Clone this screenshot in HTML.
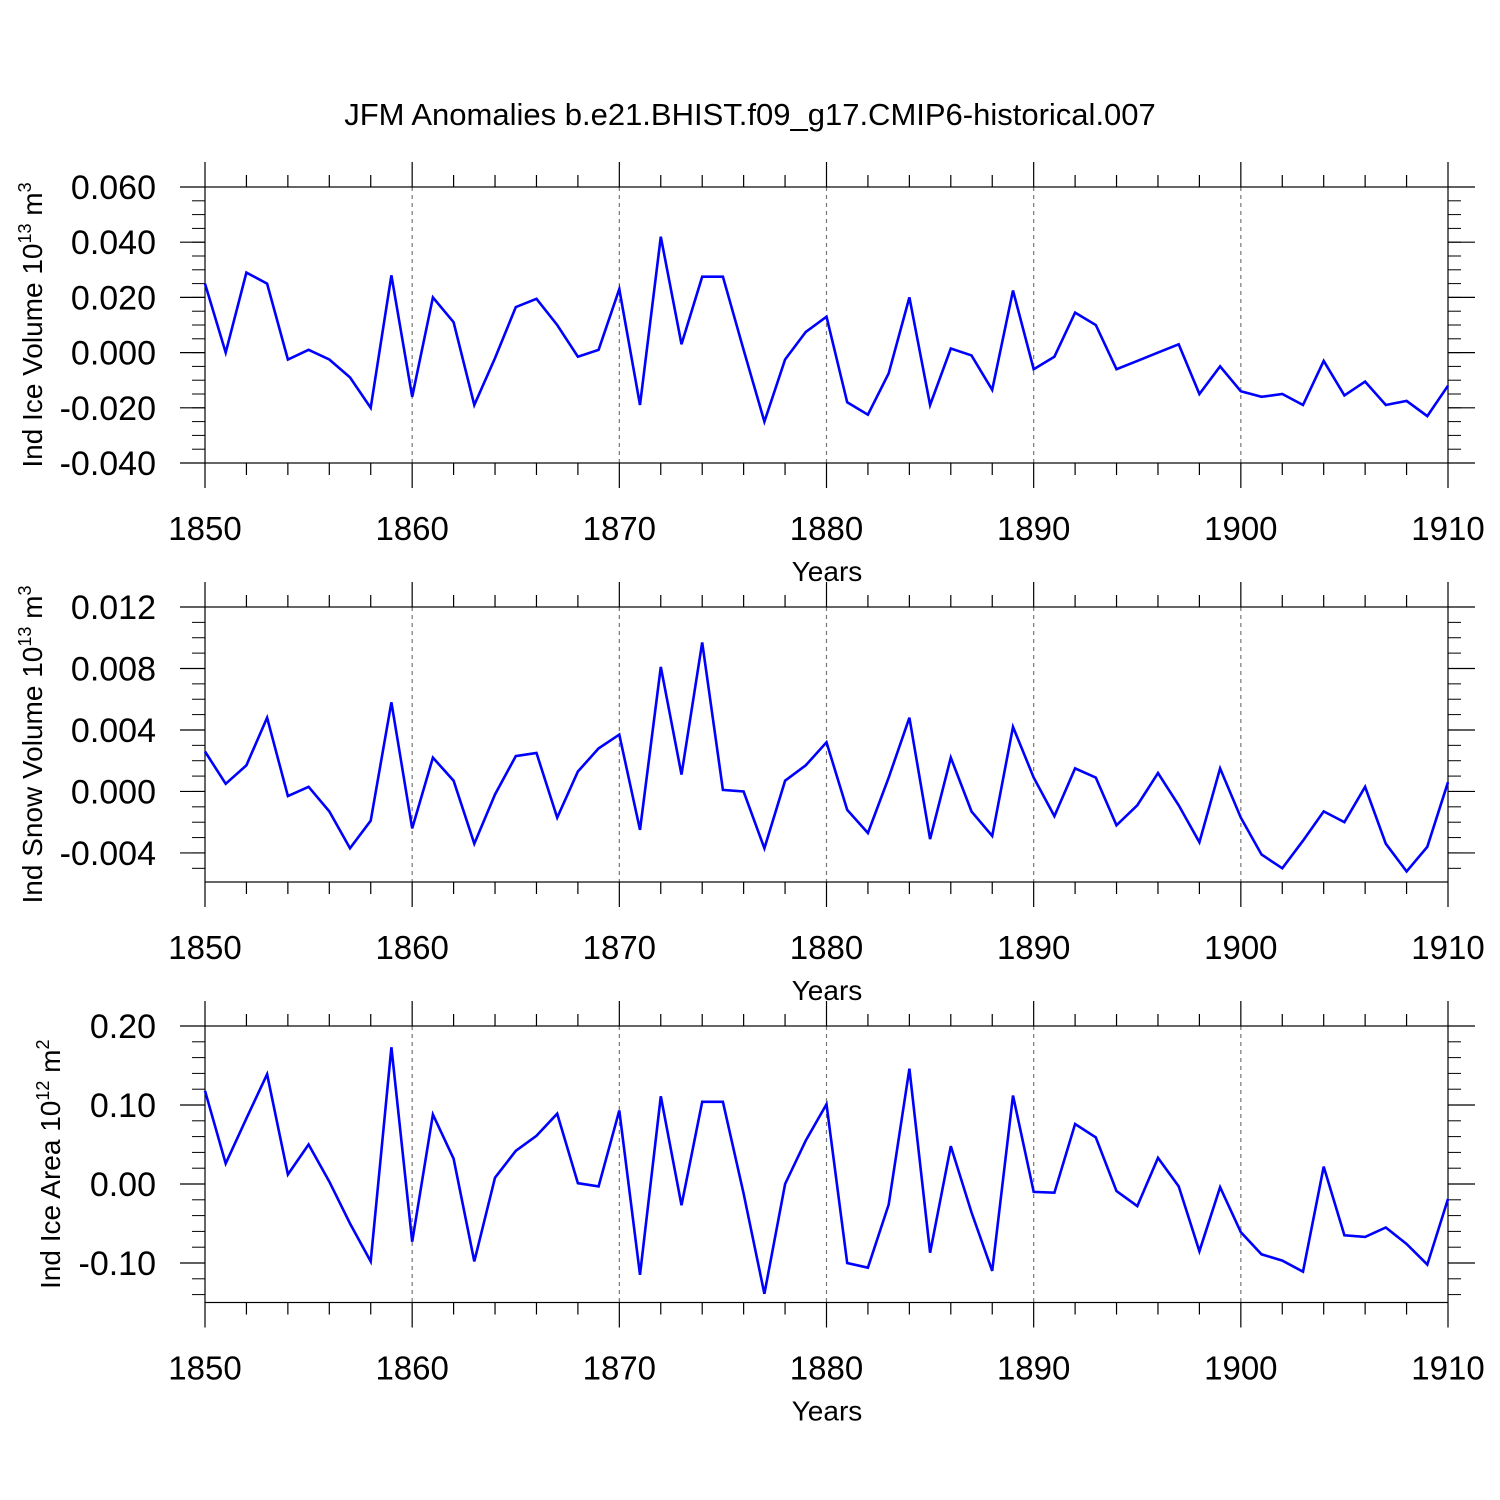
<!DOCTYPE html>
<html><head><meta charset="utf-8"><style>
html,body{margin:0;padding:0;background:#fff;}
svg{display:block;font-family:"Liberation Sans",sans-serif;}
</style></head><body>
<svg id="chart" width="1500" height="1500" viewBox="0 0 1500 1500">
<text x="750" y="125" text-anchor="middle" font-size="31">JFM Anomalies b.e21.BHIST.f09_g17.CMIP6-historical.007</text>
</svg>
<script>
const years = [];
for (let y = 1850; y <= 1910; y++) years.push(y);
const iceVolume = [0.025,0.000,0.029,0.025,-0.0025,0.001,-0.0025,-0.009,-0.020,0.028,-0.016,0.020,0.011,-0.019,-0.002,0.0165,0.0195,0.010,-0.0015,0.001,0.023,-0.019,0.042,0.003,0.0275,0.0275,0.001,-0.025,-0.0025,0.0075,0.013,-0.018,-0.0225,-0.0075,0.020,-0.019,0.0015,-0.001,-0.0135,0.0225,-0.006,-0.0015,0.0145,0.010,-0.006,-0.003,0.000,0.003,-0.015,-0.005,-0.014,-0.016,-0.015,-0.019,-0.003,-0.0155,-0.0105,-0.019,-0.0175,-0.023,-0.012];
const snowVolume = [0.0026,0.0005,0.0017,0.0048,-0.0003,0.0003,-0.0013,-0.0037,-0.0019,0.0058,-0.0024,0.0022,0.0007,-0.0034,-0.0002,0.0023,0.0025,-0.0017,0.0013,0.0028,0.0037,-0.0025,0.0081,0.0011,0.0097,0.0001,0.0000,-0.0037,0.0007,0.0017,0.0032,-0.0012,-0.0027,0.0009,0.0048,-0.0031,0.0022,-0.0013,-0.0029,0.0042,0.0009,-0.0016,0.0015,0.0009,-0.0022,-0.0009,0.0012,-0.0009,-0.0033,0.0015,-0.0017,-0.0041,-0.0050,-0.0032,-0.0013,-0.0020,0.0003,-0.0034,-0.0052,-0.0036,0.0006];
const iceArea = [0.118,0.026,0.083,0.139,0.012,0.050,0.003,-0.050,-0.098,0.173,-0.073,0.088,0.032,-0.098,0.008,0.042,0.061,0.089,0.001,-0.003,0.093,-0.115,0.111,-0.027,0.104,0.104,-0.012,-0.139,0.000,0.055,0.101,-0.100,-0.106,-0.026,0.146,-0.087,0.048,-0.036,-0.110,0.112,-0.010,-0.011,0.076,0.059,-0.009,-0.028,0.033,-0.003,-0.085,-0.004,-0.061,-0.089,-0.097,-0.111,0.022,-0.065,-0.067,-0.055,-0.076,-0.102,-0.019];
const xTickLabels = ["1850","1860","1870","1880","1890","1900","1910"];
const iceVolTicks = [0.06,0.04,0.02,0,-0.02,-0.04];
const snowTicks = [0.012,0.008,0.004,0,-0.004];
const areaTicks = [0.2,0.1,0,-0.1];

const NS = "http://www.w3.org/2000/svg";
const svg = document.getElementById('chart');
function mk(tag, attrs, parent) {
  const e = document.createElementNS(NS, tag);
  for (const k in attrs) e.setAttribute(k, attrs[k]);
  (parent || svg).appendChild(e);
  return e;
}
const X0 = 205, X1 = 1448;
const xs = y => X0 + (y - 1850) / 60 * (X1 - X0);

function panel(cfg) {
  const g = mk('g', {});
  
  
  const ys = v => cfg.top + (cfg.ymax - v) / (cfg.ymax - cfg.ymin) * (cfg.bot - cfg.top);
  for (let yr = 1860; yr <= 1900; yr += 10) {
    const l = mk('line', {x1: xs(yr), x2: xs(yr), y1: cfg.top, y2: cfg.bot, stroke: '#777', 'stroke-width': 1.2, 'stroke-dasharray': '4,4'}, g);
    
    
  }
  for (let yr = 1850; yr <= 1910; yr += 2) {
    const maj = (yr % 10 === 0);
    const L = maj ? 25 : 12;
    mk('line', {x1: xs(yr), x2: xs(yr), y1: cfg.top - L, y2: cfg.top, stroke: '#000', 'stroke-width': 1.2}, g);
    mk('line', {x1: xs(yr), x2: xs(yr), y1: cfg.bot, y2: cfg.bot + L, stroke: '#000', 'stroke-width': 1.2}, g);
  }
  xTickLabels.forEach(t => {
    const tx = mk('text', {x: xs(+t), y: cfg.bot + 77, 'text-anchor': 'middle', 'font-size': 33}, g);
    tx.textContent = t;
    
    
  });
  const xt = mk('text', {x: 827, y: cfg.bot + 118, 'text-anchor': 'middle', 'font-size': 28}, g);
  xt.textContent = 'Years';
  
  
  const n = Math.round((cfg.ymax - cfg.ymin) / cfg.minor) + 2;
  for (let i = -1; i < n; i++) {
    const v = cfg.ymax - i * cfg.minor;
    const py = ys(v);
    if (py < cfg.top - 0.5 || py > cfg.bot + 0.5) continue;
    mk('line', {x1: X0 - 13, x2: X0, y1: py, y2: py, stroke: '#000', 'stroke-width': 1}, g);
    mk('line', {x1: X1, x2: X1 + 13, y1: py, y2: py, stroke: '#000', 'stroke-width': 1}, g);
  }
  cfg.ticks.forEach(v => {
    const py = ys(v);
    mk('line', {x1: X0 - 25, x2: X0, y1: py, y2: py, stroke: '#000', 'stroke-width': 1.2}, g);
    mk('line', {x1: X1, x2: X1 + 27, y1: py, y2: py, stroke: '#000', 'stroke-width': 1.2}, g);
    const t = mk('text', {x: 156, y: py + 12, 'text-anchor': 'end', 'font-size': 34}, g);
    t.textContent = v.toFixed(cfg.dec);
    
    
  });
  const b = mk('rect', {x: X0, y: cfg.top, width: X1 - X0, height: cfg.bot - cfg.top, fill: 'none', stroke: '#000', 'stroke-width': 1.2}, g);
  
  
  const d = cfg.data.map((v, i) => (i ? 'L' : 'M') + xs(years[i]).toFixed(1) + ',' + ys(v).toFixed(1)).join(' ');
  const p = mk('path', {d: d, fill: 'none', stroke: '#0000ff', 'stroke-width': 2.6, 'stroke-linejoin': 'miter'}, g);
  
  
  const yt = mk('text', {transform: 'translate(' + cfg.tx + ',' + ((cfg.top + cfg.bot) / 2) + ') rotate(-90)', 'text-anchor': 'middle', 'font-size': 28}, g);
  
  
  yt.innerHTML = cfg.title + ' 10<tspan dy="-11" font-size="18">' + cfg.exp + '</tspan><tspan dy="11"> m</tspan><tspan dy="-11" font-size="18">' + cfg.unit + '</tspan>';
}
panel({name: 'ice-volume-panel', top: 187, bot: 463, ymax: 0.06, ymin: -0.04, minor: 0.005, ticks: iceVolTicks, dec: 3, data: iceVolume, title: 'Ind Ice Volume', exp: '13', unit: '3', tx: 42});
panel({name: 'snow-volume-panel', top: 607, bot: 882, ymax: 0.012, ymin: -0.00589, minor: 0.001, ticks: snowTicks, dec: 3, data: snowVolume, title: 'Ind Snow Volume', exp: '13', unit: '3', tx: 42});
panel({name: 'ice-area-panel', top: 1026, bot: 1302.5, ymax: 0.2, ymin: -0.15, minor: 0.02, ticks: areaTicks, dec: 2, data: iceArea, title: 'Ind Ice Area', exp: '12', unit: '2', tx: 60});
</script>
</body></html>
